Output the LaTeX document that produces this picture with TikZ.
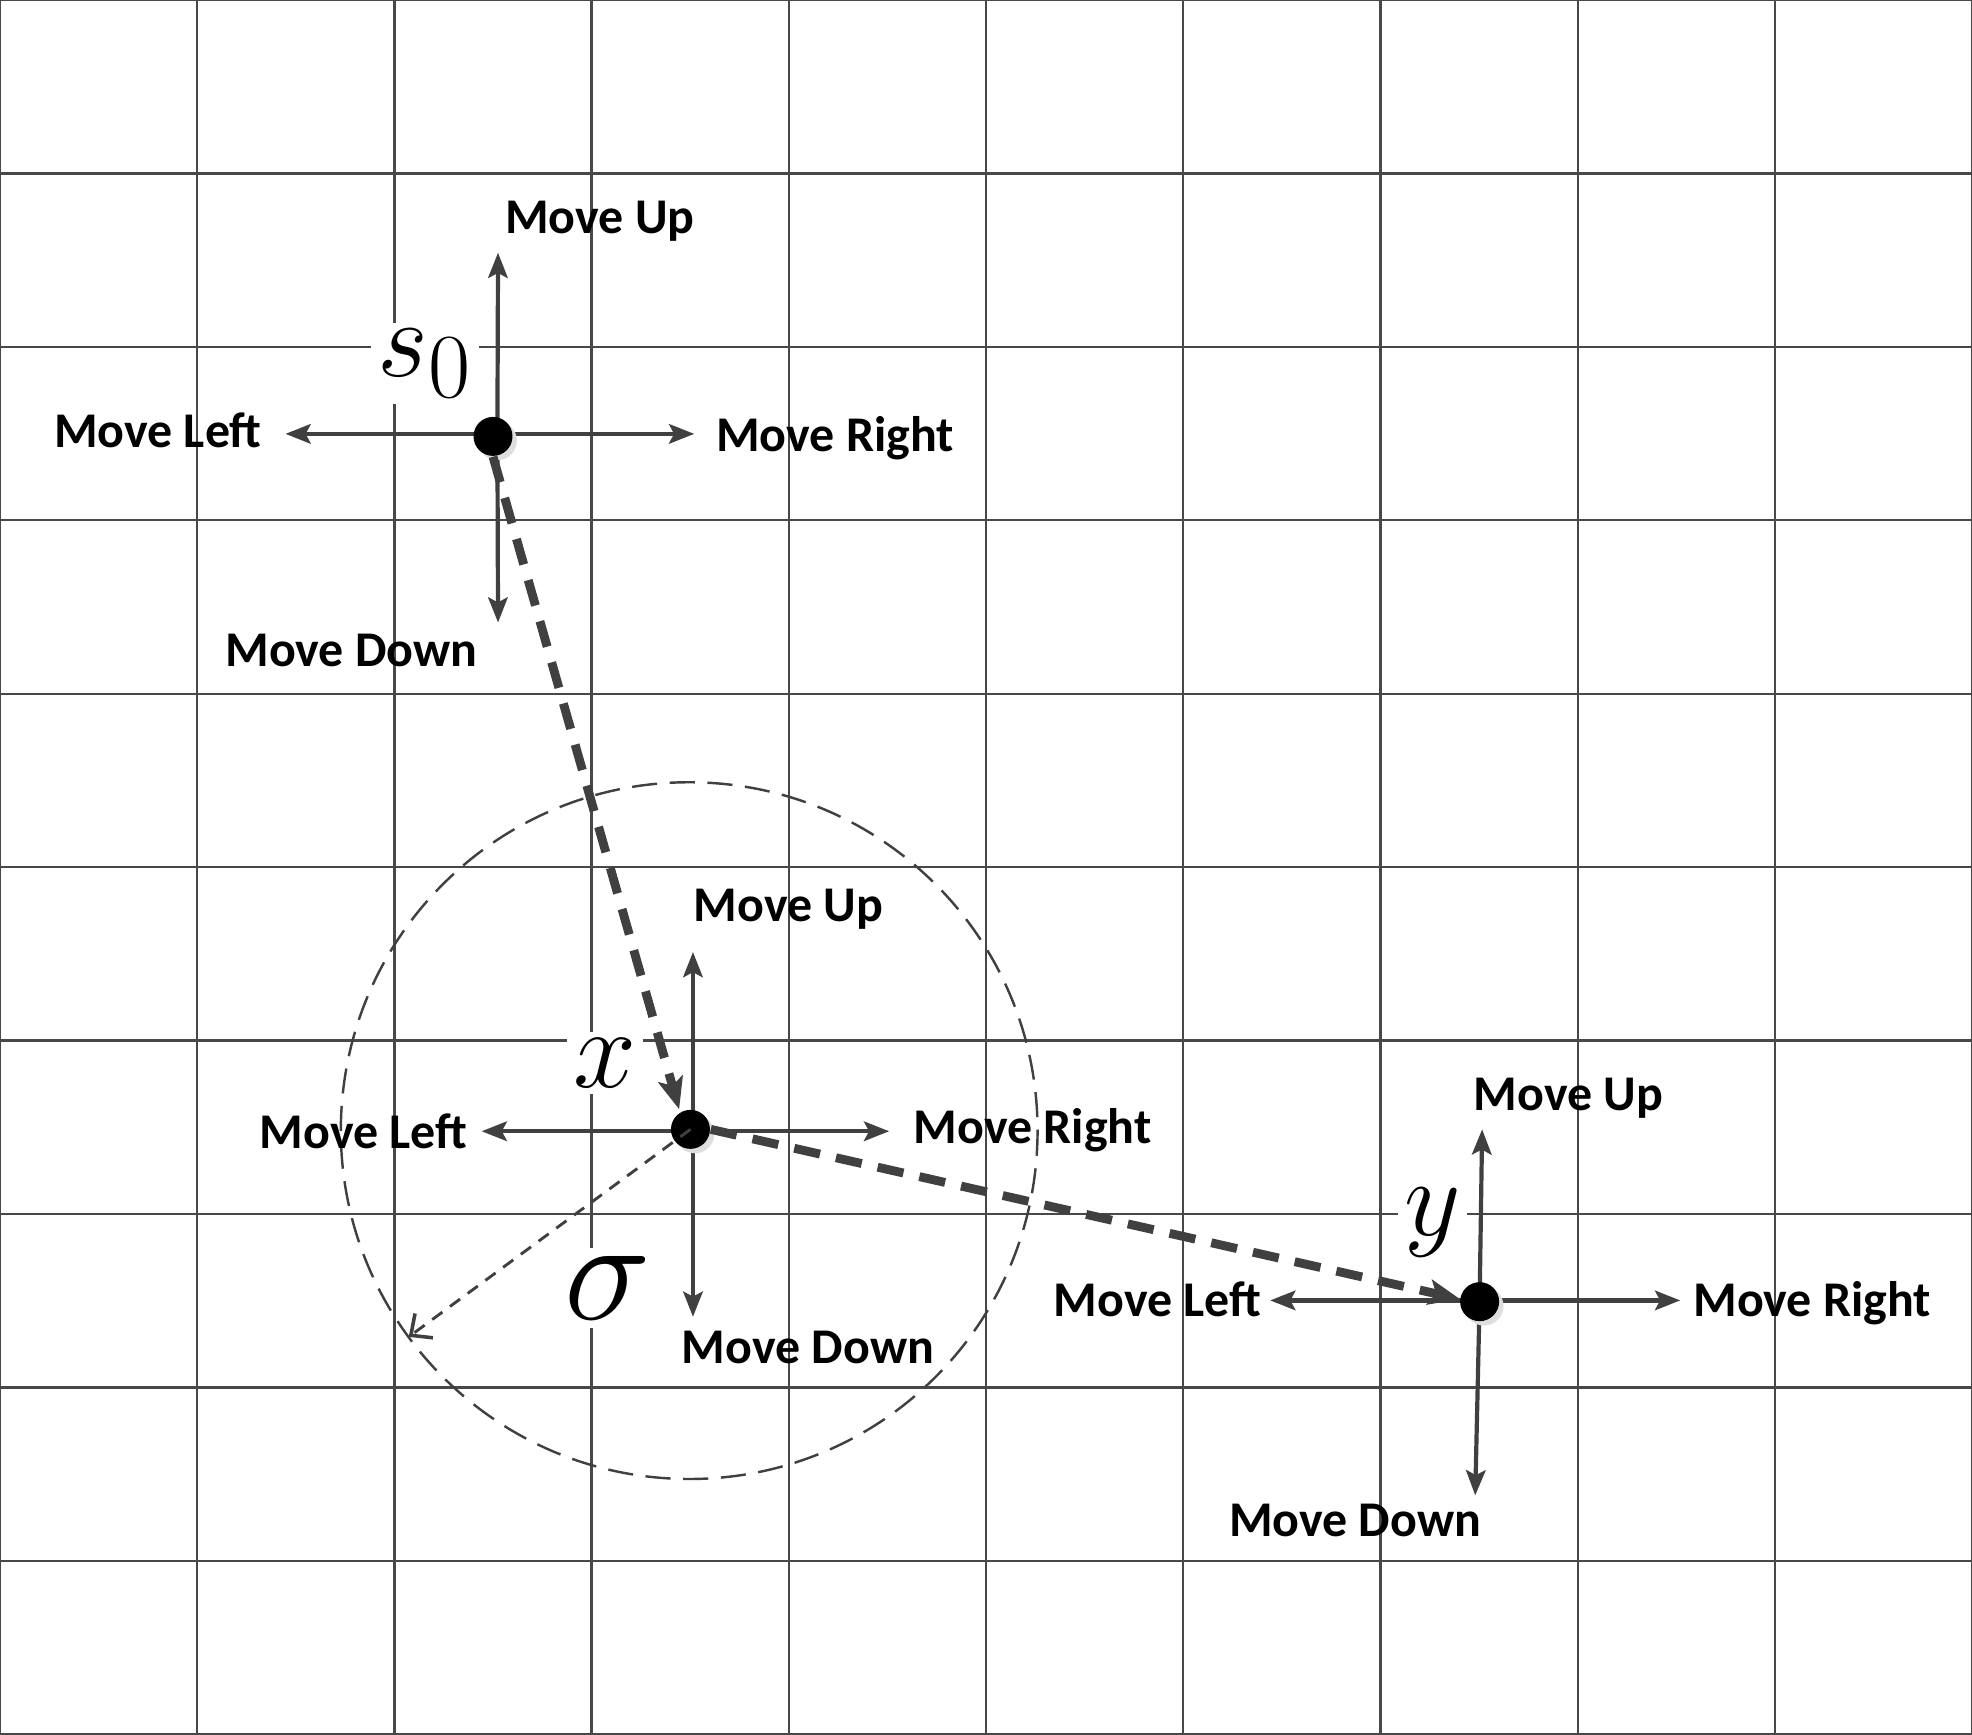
\documentclass[tikz,border=0pt]{standalone}
\usepackage[no-math]{fontspec}
\setmainfont{Carlito}
\usetikzlibrary{arrows.meta}
\definecolor{gridc}{RGB}{72,72,72}
\definecolor{arrc}{RGB}{64,64,64}
\definecolor{shadc}{RGB}{222,222,222}
\begin{document}
\begin{tikzpicture}[x=0.1mm,y=-0.1mm,
  gridline/.style={draw=gridc,line width=0.5pt},
  move/.style={draw=arrc,line width=0.95pt,-{Stealth[length=2mm,width=1.55mm,inset=0.4mm]}},
  lab/.style={font=\fontsize{11.3}{13}\selectfont\bfseries,anchor=base,inner sep=0pt},
  mathlab/.style={fill=white,inner sep=1.5pt,font=\fontsize{24.88}{30}\selectfont},
  dot/.style={circle,fill=black,minimum size=3.1mm,inner sep=0pt,
    preaction={fill=shadc,transform canvas={shift={(0.35mm,-0.35mm)}}}},
  route/.style={draw=arrc,line width=2pt,dash pattern=on 2.1mm off 1.3mm,
    -{Stealth[length=2.5mm,width=2mm,inset=0.55mm]}},
  circ/.style={draw=arrc,line width=0.55pt,dash pattern=on 2mm off 1mm},
  sig/.style={draw=arrc,line width=0.65pt,dash pattern=on 1mm off 0.75mm,
    -{Straight Barb[length=1.3mm,width=2.4mm,line width=0.8pt]}}]
\useasboundingbox (0,0) rectangle (1568,1379);
% grid
\foreach \i in {0,...,10} {
  \draw[gridline] (\i*156.8,0) -- (\i*156.8,1379);
  \draw[gridline] (0,\i*137.9) -- (1568,\i*137.9);
}
% math labels (white boxes over the grid)
\node[mathlab] (ls0) at (338,289) {$s_0$};
\node[mathlab,scale=1.03] (lx) at (481,845) {$x$};
\node[mathlab,scale=1.33] (lsig) at (483,1024) {$\sigma$};
\node[mathlab] (ly) at (1139,972) {$y$};
% dashed circle
\draw[circ] (548,899) circle (277);
% --- state s0
\coordinate (s0c) at (395.5,345);
\coordinate (s0u) at (396,201);
\coordinate (s0d) at (396,495);
\coordinate (s0l) at (227,345);
\coordinate (s0r) at (552,345);
\draw[move] (s0c) -- (s0u);
\draw[move] (s0c) -- (s0d);
\draw[move] (s0c) -- (s0l);
\draw[move] (s0c) -- (s0r);
\node[dot] (s0) at (392,347) {};
\node[lab] (s0U) at (477,186) {Move Up};
\node[lab] (s0R) at (664,359) {Move Right};
\node[lab] (s0L) at (125.5,356) {Move Left};
\node[lab] (s0D) at (279.5,530) {Move Down};
% --- state x
\coordinate (xc) at (551,899.5);
\coordinate (xu) at (551,757);
\coordinate (xdn) at (551,1047);
\coordinate (xl) at (383,899.5);
\coordinate (xr) at (707,899.5);
\draw[move] (xc) -- (xu);
\draw[move] (xc) -- (xdn);
\draw[move] (xc) -- (xl);
\draw[move] (xc) -- (xr);
\node[lab] (xU) at (627,733) {Move Up};
\node[lab] (xR) at (821,909) {Move Right};
\node[lab] (xL) at (289,913) {Move Left};
\node[lab] (xD) at (642.5,1084) {Move Down};
% --- state y
\coordinate (yc) at (1176.5,1034);
\coordinate (yu) at (1178.5,898);
\coordinate (ydn) at (1173,1189);
\coordinate (yl) at (1010,1034);
\coordinate (yr) at (1336,1034);
\draw[move] (yc) -- (yu);
\draw[move] (yc) -- (ydn);
\draw[move] (yc) -- (yl);
\draw[move] (yc) -- (yr);
\node[lab] (yU) at (1247,883) {Move Up};
\node[lab] (yR) at (1441,1047) {Move Right};
\node[lab] (yL) at (920.5,1047) {Move Left};
\node[lab] (yD) at (1077.5,1222) {Move Down};
% sigma radius
\coordinate (sigtip) at (325,1063);
\node[dot] (xdot) at (549,898) {};
\node[dot] (ydot) at (1176.5,1035) {};
\draw[sig] (xdot.center) -- (sigtip);
% trajectory
\coordinate (xin) at (540,882);
\coordinate (yin) at (1161,1033);
\draw[route] (s0.south) -- (xin);
\draw[route] (xdot.east) -- (yin);
\end{tikzpicture}
\end{document}
